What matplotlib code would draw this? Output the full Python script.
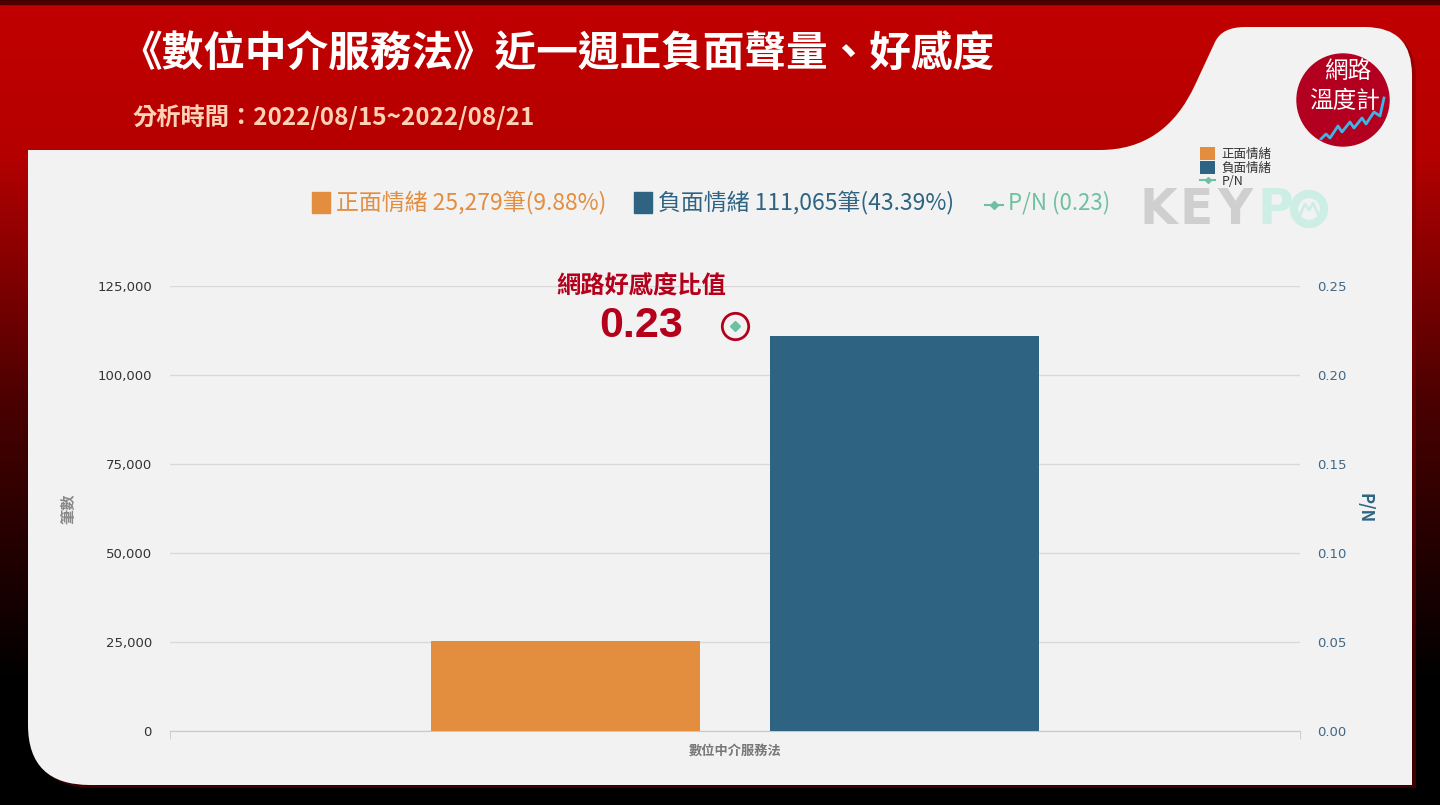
import numpy as np
import matplotlib.pyplot as plt
from matplotlib.path import Path
from matplotlib.patches import PathPatch, Circle, Rectangle
from matplotlib.colors import LinearSegmentedColormap
from matplotlib.lines import Line2D

plt.rcParams['font.family'] = ['Noto Sans CJK TC', 'DejaVu Sans']

# ---- data ----
title = '《數位中介服務法》近一週正負面聲量、好感度'
subtitle = '分析時間：2022/08/15~2022/08/21'
category = ['數位中介服務法']
series_names = ['正面情緒', '負面情緒']
series_counts = [25279, 111065]
series_share = [9.88, 43.39]
pn_value = 0.2276
pn_label = '0.23'
left_ticks = [0, 25000, 50000, 75000, 100000, 125000]
right_ticks = [0, 0.05, 0.10, 0.15, 0.20, 0.25]

orange = '#e38d3f'
blue = '#2e6482'
green = '#6dc0a0'
red = '#b5001c'

W, H = 1440, 805
fig = plt.figure(figsize=(14.4, 8.05), dpi=100)

# background / panel in pixel coords
bg = fig.add_axes([0, 0, 1, 1])
bg.set_xlim(0, W)
bg.set_ylim(H, 0)
bg.axis('off')
grad = LinearSegmentedColormap.from_list(
    'g', [(0, '#c20000'), (0.19, '#b50000'), (0.5, '#4a0000'), (0.85, '#000000'), (1, '#000000')])
bg.imshow(np.linspace(0, 1, 256).reshape(-1, 1), cmap=grad,
          extent=[0, W, H, 0], aspect='auto', zorder=0)
bg.add_patch(Rectangle((0, 0), W, 4, color='#4a0000', zorder=1))

M, L, C = Path.MOVETO, Path.LINETO, Path.CURVE3
verts = [(28, 150), (1100, 150), (1165, 150), (1195, 85), (1215, 42), (1222, 27),
         (1245, 27), (1365, 27), (1412, 27), (1412, 75), (1412, 785), (90, 785),
         (28, 785), (28, 725), (28, 150)]
codes = [M, L, C, C, L, C, C, L, C, C, L, L, C, C, Path.CLOSEPOLY]
shadow = [(x + 4, y + 3) for x, y in verts]
bg.add_patch(PathPatch(Path(shadow, codes), fc='#7a0000', ec='none', alpha=0.5, zorder=1))
bg.add_patch(PathPatch(Path(verts, codes), fc='#f2f2f2', ec='none', zorder=2))

# header text
bg.text(120, 55, title, color='white', fontsize=30, fontweight='bold', va='center', zorder=3)
bg.text(133, 117, subtitle, color='#ffd2b8', fontsize=17.5, fontweight='bold', va='center', zorder=3)

# badge
badge = Circle((1343, 100), 46, color='#b30020', zorder=3)
bg.add_patch(badge)
bg.text(1348, 72, '網路', color='white', fontsize=17, ha='center', va='center', zorder=4)
bg.text(1345, 102, '溫度計', color='white', fontsize=17, ha='center', va='center', zorder=4)
zz, = bg.plot([1318, 1326, 1330, 1338, 1342, 1350, 1354, 1362, 1366, 1374, 1380, 1384],
              [142, 134, 138, 126, 132, 122, 128, 118, 124, 112, 116, 98],
              color='#3fb6e8', lw=2, zorder=4)
zz.set_clip_path(badge)

# KEYPO logo
for ch, x0, col in [('K', 1140, '#cfcfcf'), ('E', 1180, '#cfcfcf'), ('Y', 1218, '#cfcfcf'),
                    ('P', 1258, '#cdeee4')]:
    bg.text(x0, 210, ch, color=col, fontsize=35, fontweight='bold', va='center',
            family='DejaVu Sans', zorder=3)
bg.add_patch(Circle((1309, 209), 15, fc='none', ec='#cdeee4', lw=6, zorder=3))
bg.plot([1300, 1305, 1309, 1313, 1318], [215, 204, 210, 203, 214], color='#cdeee4', lw=2, zorder=3)

# top legend
bg.add_patch(Rectangle((312, 192), 18, 21, color=orange, zorder=3))
bg.text(336, 203, f'{series_names[0]} {series_counts[0]:,}筆({series_share[0]}%)',
        color=orange, fontsize=16.5, va='center', zorder=3)
bg.add_patch(Rectangle((634, 192), 18, 21, color=blue, zorder=3))
bg.text(658, 203, f'{series_names[1]} {series_counts[1]:,}筆({series_share[1]}%)',
        color=blue, fontsize=16.5, va='center', zorder=3)
bg.plot([985, 1003], [205, 205], color=green, lw=1.5, zorder=3)
bg.plot([994], [205], marker='D', ms=4, color=green, zorder=3)
bg.text(1008, 203, f'P/N ({pn_label})', color=green, fontsize=16, va='center', zorder=3)

# chart
ax = fig.add_axes([170 / W, (H - 731) / H, 1130 / W, 445 / H])
ax.set_facecolor('none')
x = np.arange(len(category))
offsets = [-0.15, 0.15]
colors = [orange, blue]
bars = []
for i in range(2):
    b = ax.bar(x + offsets[i], [series_counts[i]], width=0.238, color=colors[i],
               label=series_names[i], zorder=3)
    bars.append(b)
ax.set_xlim(-0.5, 0.5)
ax.set_ylim(0, 125000)
ax.set_yticks(left_ticks)
ax.set_yticklabels([f'{v:,}' for v in left_ticks], family='DejaVu Sans')
ax.grid(axis='y', color='#d9d9d9', lw=1)
ax.set_axisbelow(True)
for s in ['top', 'left', 'right']:
    ax.spines[s].set_visible(False)
ax.spines['bottom'].set_color('#c8c8c8')
ax.tick_params(axis='y', length=0, pad=13, labelsize=9.5, labelcolor='#333333')
ax.set_xticks(x)
ax.set_xticklabels(category, fontweight='bold')
ax.tick_params(axis='x', which='major', length=0, pad=9, labelsize=9.5, labelcolor='#777777')
ax.set_xticks([-0.5, 0.5], minor=True)
ax.tick_params(axis='x', which='minor', length=6, color='#c8c8c8')
ax.set_ylabel('筆數', color='#888888', fontsize=11, fontweight='bold')
ax.yaxis.set_label_coords(-0.083, 0.5)

ax2 = ax.twinx()
ax2.set_ylim(0, 0.25)
ax2.set_yticks(right_ticks)
ax2.set_yticklabels([f'{v:.2f}' for v in right_ticks], family='DejaVu Sans')
for s in ax2.spines.values():
    s.set_visible(False)
ax2.tick_params(axis='y', length=0, pad=12, labelsize=9.5, labelcolor='#3f6787')
ax2.set_ylabel('P/N', rotation=270, color=blue, fontsize=12, fontweight='bold', va='center')
ax2.yaxis.set_label_coords(1.0575, 0.5)

pn_line, = ax2.plot(x, [pn_value], marker='D', ms=5, color=green, lw=1.5, label='P/N', zorder=5)
ax2.plot(x, [pn_value], marker='o', ms=19, mfc='none', mec=red, mew=2, lw=0, zorder=5)
ax2.annotate(pn_label, (x[0], pn_value), xytext=(-94, 0), textcoords='offset pixels',
             ha='center', va='center', color=red, fontsize=31, fontweight='bold',
             family=['Liberation Sans'])
ax2.annotate('網路好感度比值', (x[0], pn_value), xytext=(-94, 40), textcoords='offset pixels',
             ha='center', va='center', color=red, fontsize=17.5, fontweight='bold')

fig.legend(handles=[bars[0], bars[1], Line2D([], [], color=green, marker='D', ms=3, lw=1.5)],
           labels=['正面情緒', '負面情緒', 'P/N'], loc='upper left',
           bbox_to_anchor=(1194 / W, 1 - 141 / H), fontsize=9, frameon=False,
           handlelength=1.2, handleheight=1.2, labelspacing=0.0, handletextpad=0.5,
           borderpad=0, labelcolor='#333333')

fig.savefig('out.png', dpi=100)
